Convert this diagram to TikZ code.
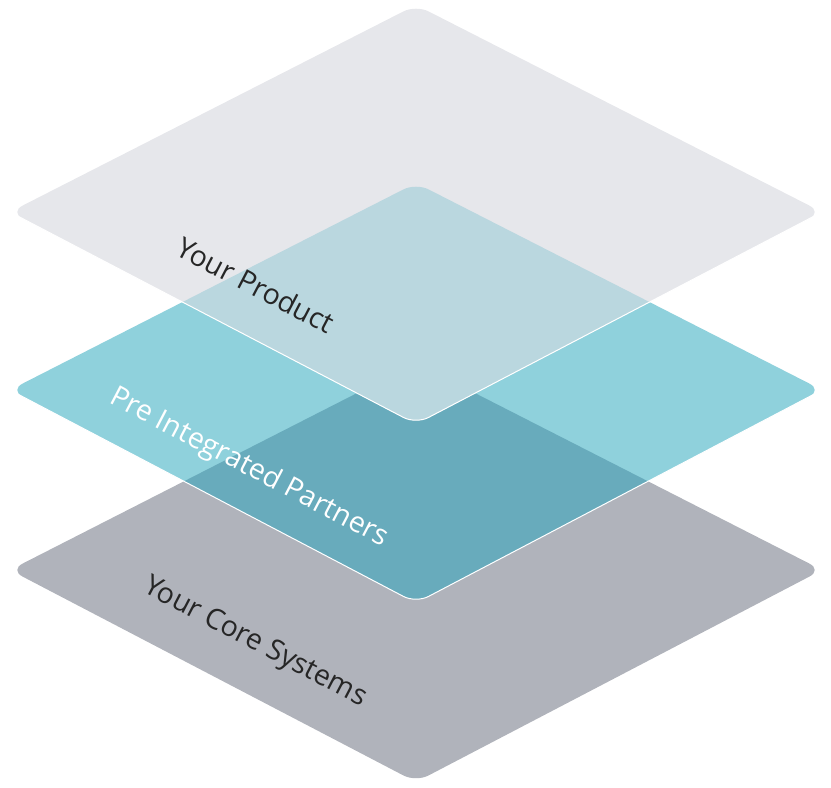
\documentclass[tikz,border=0pt]{standalone}
\usepackage{fontspec}
\setmainfont{Open Sans}
\definecolor{ctop}{HTML}{E6E7EB}
\definecolor{cmid}{HTML}{8FD1DC}
\definecolor{cbot}{HTML}{B0B3BB}
\definecolor{cmb}{HTML}{68ABBC}
\definecolor{ctm}{HTML}{BAD7DF}
\begin{document}
\begin{tikzpicture}[x=1pt,y=-1pt,
  lbl/.style={font=\fontsize{28.5}{32}\selectfont, rotate=-27.6, inner sep=0pt}]
\useasboundingbox (0,0) rectangle (831,788);
\fill[cbot, rounded corners=14] (416,363) -- (822,570) -- (416,782) -- (10,570) -- cycle;
\fill[cmid, rounded corners=14] (416,183) -- (822,390) -- (416,603) -- (10,390) -- cycle;
\begin{scope}
\clip[rounded corners=14] (416,183) -- (822,390) -- (416,603) -- (10,390) -- cycle;
\fill[cmb, rounded corners=14] (416,363) -- (822,570) -- (416,782) -- (10,570) -- cycle;
\end{scope}
\draw[white, line width=1, rounded corners=14] (822,390) -- (416,603) -- (10,390);
\fill[ctop, rounded corners=14] (416,5) -- (822,212) -- (416,424) -- (10,212) -- cycle;
\begin{scope}
\clip[rounded corners=14] (416,5) -- (822,212) -- (416,424) -- (10,212) -- cycle;
\fill[ctm, rounded corners=14] (416,183) -- (822,390) -- (416,603) -- (10,390) -- cycle;
\end{scope}
\draw[white, line width=1, rounded corners=14] (822,212) -- (416,424) -- (10,212);
\node[lbl, text=black!85] (p) at (256,285) {Your Product};
\node[lbl, text=white] (q) at (249,468) {Pre Integrated Partners};
\node[lbl, text=black!85] (r) at (255,643) {Your Core Systems};
\end{tikzpicture}
\end{document}
